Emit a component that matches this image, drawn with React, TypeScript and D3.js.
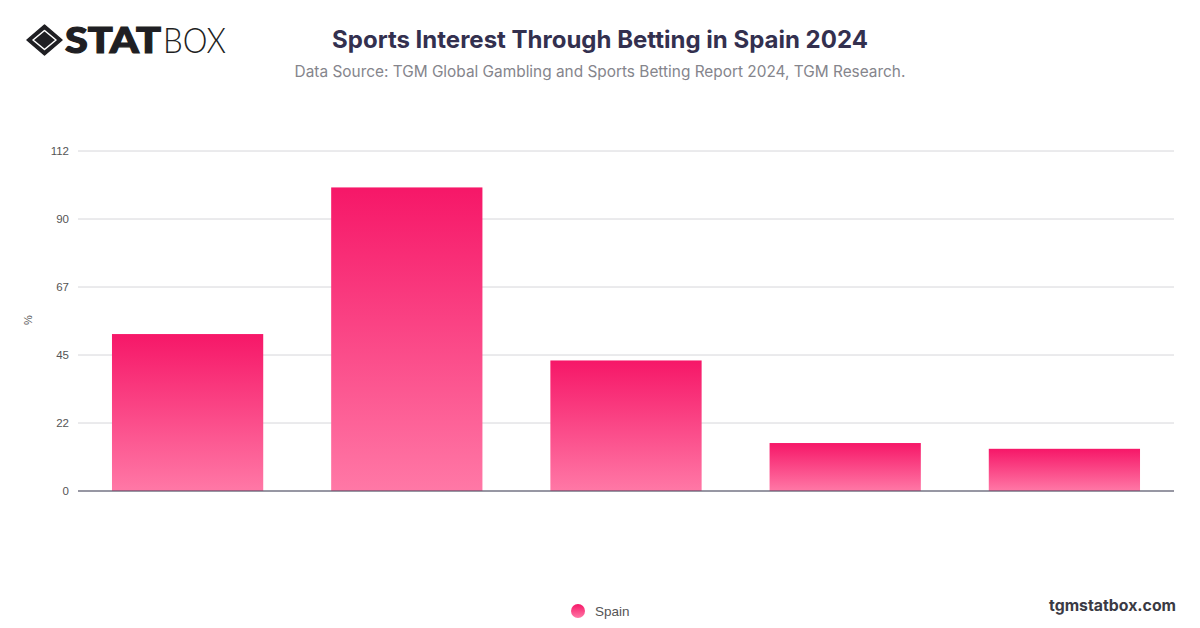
import { useEffect, useRef } from "react"
import * as d3 from "d3"

// x labels are not shown in the picture, so the categories are just positions
const categories = ["1", "2", "3", "4", "5"]
const values = [51.7, 100, 43, 15.8, 13.9]
const tickValues = [0, 22.4, 44.8, 67.2, 89.6, 112]
const tickLabels = ["0", "22", "45", "67", "90", "112"]

const font = "Inter, 'Liberation Sans', sans-serif"
const labelFont = "'Liberation Sans', sans-serif"

export default function App() {
  const svgRef = useRef<SVGSVGElement>(null)

  useEffect(() => {
    if (!svgRef.current) return

    const width = 1200
    const height = 628

    const svg = d3.select(svgRef.current).attr("width", width).attr("height", height)
    svg.selectAll("*").remove()

    const defs = svg.append("defs")
    const grad = defs
      .append("linearGradient")
      .attr("id", "barFill")
      .attr("x1", 0)
      .attr("y1", 0)
      .attr("x2", 0)
      .attr("y2", 1)
    grad.append("stop").attr("offset", "0%").attr("stop-color", "#f61768")
    grad.append("stop").attr("offset", "100%").attr("stop-color", "#ff78a6")

    const x = d3.scaleBand<string>().domain(categories).range([78, 1174]).paddingInner(0.31).paddingOuter(0.155)
    const y = d3.scaleLinear().domain([0, 112]).range([491, 151])

    // gridlines + y labels
    const ticks = svg.append("g").selectAll("g").data(tickValues).enter().append("g")
    ticks
      .append("line")
      .attr("x1", 78)
      .attr("x2", 1174)
      .attr("y1", (d) => y(d))
      .attr("y2", (d) => y(d))
      .attr("stroke", "#d6d6da")
      .attr("stroke-width", 1)
    ticks
      .append("text")
      .attr("x", 69)
      .attr("y", (d) => y(d))
      .attr("dy", "0.35em")
      .attr("text-anchor", "end")
      .attr("font-family", labelFont)
      .attr("font-size", "11.5px")
      .attr("fill", "#555")
      .text((d, i) => tickLabels[i])

    svg
      .append("g")
      .selectAll("rect")
      .data(values)
      .enter()
      .append("rect")
      .attr("x", (d, i) => x(categories[i]) as number)
      .attr("y", (d) => y(d))
      .attr("width", x.bandwidth())
      .attr("height", (d) => y(0) - y(d))
      .attr("fill", "url(#barFill)")

    // baseline
    svg
      .append("line")
      .attr("x1", 78)
      .attr("x2", 1174)
      .attr("y1", y(0))
      .attr("y2", y(0))
      .attr("stroke", "#44445a")
      .attr("stroke-width", 1.2)

    svg
      .append("text")
      .attr("transform", "translate(28,320) rotate(-90)")
      .attr("text-anchor", "middle")
      .attr("dy", "0.35em")
      .attr("font-family", labelFont)
      .attr("font-size", "11px")
      .attr("fill", "#555")
      .text("%")

    // title
    svg
      .append("text")
      .attr("x", 600)
      .attr("y", 48)
      .attr("text-anchor", "middle")
      .attr("font-family", font)
      .attr("font-size", "24px")
      .attr("font-weight", 700)
      .attr("fill", "#33304f")
      .text("Sports Interest Through Betting in Spain 2024")
    svg
      .append("text")
      .attr("x", 600)
      .attr("y", 77)
      .attr("text-anchor", "middle")
      .attr("font-family", font)
      .attr("font-size", "15.4px")
      .attr("fill", "#85858c")
      .text("Data Source: TGM Global Gambling and Sports Betting Report 2024, TGM Research.")

    // legend
    svg.append("circle").attr("cx", 578).attr("cy", 611).attr("r", 7).attr("fill", "url(#barFill)")
    svg
      .append("text")
      .attr("x", 595)
      .attr("y", 611)
      .attr("dy", "0.35em")
      .attr("font-family", labelFont)
      .attr("font-size", "13.5px")
      .attr("fill", "#555")
      .text("Spain")

    svg
      .append("text")
      .attr("x", 1176)
      .attr("y", 611)
      .attr("text-anchor", "end")
      .attr("font-family", font)
      .attr("font-size", "15.8px")
      .attr("font-weight", 700)
      .attr("fill", "#3a3a44")
      .text("tgmstatbox.com")

    // logo
    const logo = svg.append("g").attr("fill", "#1f1f23")
    logo
      .append("path")
      .attr("d", "M44.5 25 L62 40 L44.5 55 L27 40 Z")
      .attr("stroke", "#1f1f23")
      .attr("stroke-width", 1.5)
      .attr("stroke-linejoin", "round")
    logo
      .append("path")
      .attr("d", "M44.5 30.5 L56 40 L44.5 49.5 L33 40 Z")
      .attr("fill", "#1f1f23")
      .attr("stroke", "#fff")
      .attr("stroke-width", 1.6)
      .attr("stroke-linejoin", "round")
    logo
      .append("text")
      .attr("x", 65)
      .attr("y", 53)
      .attr("font-family", "Lato, sans-serif")
      .attr("font-size", "36px")
      .attr("font-weight", 900)
      .attr("stroke", "#1f1f23")
      .attr("stroke-width", 1.2)
      .attr("textLength", 96)
      .attr("lengthAdjust", "spacingAndGlyphs")
      .text("STAT")
    logo
      .append("text")
      .attr("x", 163)
      .attr("y", 53)
      .attr("font-family", "Lato, sans-serif")
      .attr("font-size", "36px")
      .attr("font-weight", 300)
      .attr("textLength", 63)
      .attr("lengthAdjust", "spacingAndGlyphs")
      .text("BOX")
  }, [])

  return <svg ref={svgRef} style={{ position: "absolute", left: 0, top: 0, background: "#fff" }} />
}
